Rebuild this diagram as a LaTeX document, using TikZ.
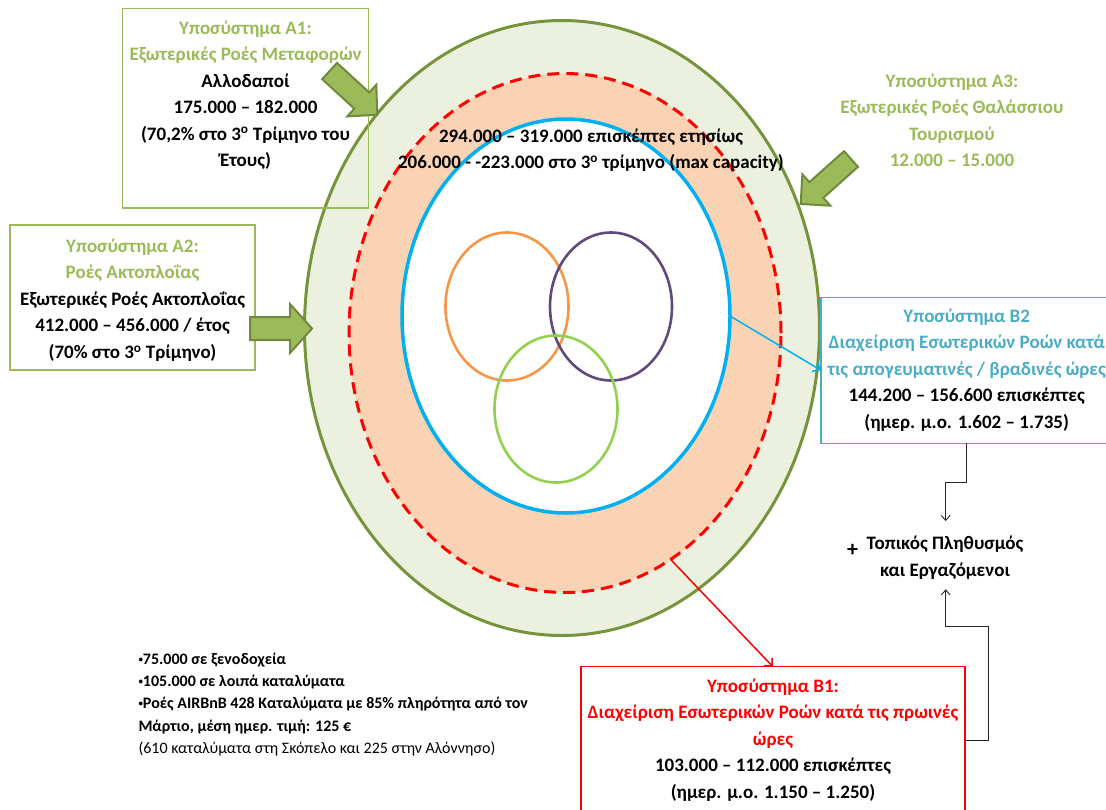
\documentclass[tikz,border=0pt]{standalone}
\usepackage{fontspec}
\setmainfont{Carlito}
\usetikzlibrary{arrows.meta,shapes.geometric}
\definecolor{olivestroke}{HTML}{77933C}
\definecolor{palegreen}{HTML}{EBF1DE}
\definecolor{peach}{HTML}{FAD3B4}
\definecolor{accgreen}{HTML}{9BBB59}
\definecolor{arrstroke}{HTML}{71893F}
\definecolor{skyblue}{HTML}{00B0F0}
\definecolor{aqua}{HTML}{4BACC6}
\definecolor{vorange}{HTML}{F79646}
\definecolor{vpurple}{HTML}{604A7B}
\definecolor{vgreen}{HTML}{92D050}
\newcommand\BigArr[7]{%
  \draw[bigarrow, shift={(#1,#2)}, rotate=#3]
    (0,-#5) -- ({#4-#7},-#5) -- ({#4-#7},-#6) -- (#4,0) -- ({#4-#7},#6) -- ({#4-#7},#5) -- (0,#5) -- cycle;}
\newcommand\SmallBul{\raisebox{2.2pt}{\fontsize{9}{9}\selectfont•}}
\begin{document}
\begin{tikzpicture}[x=1pt,y=-1pt,
  ring/.style={ellipse, inner sep=0pt, outer sep=0pt},
  venn/.style={ellipse, inner sep=0pt, line width=2.6pt},
  frame/.style={rectangle, inner sep=0pt, outer sep=0pt, line width=1.2pt},
  txt/.style={align=center, inner sep=0pt, anchor=north, font=\bfseries\fontsize{19}{26.5}\selectfont},
  small/.style={align=left, inner sep=0pt, anchor=north west, font=\bfseries\fontsize{16}{22.3}\selectfont},
  bigarrow/.style={fill=accgreen, draw=arrstroke, line width=2pt, line join=miter},
  conn/.style={draw=black!85, line width=0.9pt, -{Straight Barb[length=5pt,width=9pt]}},
  bluearr/.style={draw=skyblue, line width=1.5pt, -{Straight Barb[length=6pt,width=11pt]}},
  redarr/.style={draw=red, line width=1.5pt, -{Straight Barb[length=6pt,width=11pt]}}]
\fill[white] (0,0) rectangle (1106,809);
\useasboundingbox (0,0) rectangle (1106,809);

% rings
\node[ring, draw=olivestroke, fill=palegreen, line width=3pt, minimum width=515pt, minimum height=615pt] (outer) at (562,328) {};
\node[ring, draw=red, fill=peach, line width=3pt, dash pattern=on 12pt off 7pt, minimum width=432pt, minimum height=519pt] (redring) at (565,333) {};
\node[ring, draw=skyblue, fill=white, line width=3.5pt, minimum width=328pt, minimum height=394pt] (blue) at (566,316) {};

% venn
\node[venn, draw=vorange, minimum width=123pt, minimum height=148pt] (vo) at (507,306.5) {};
\node[venn, draw=vpurple, minimum width=122pt, minimum height=148pt] (vp) at (611,306.5) {};
\node[venn, draw=vgreen, minimum width=123pt, minimum height=147pt] (vg) at (556,409) {};

% central text
\node[txt] (ctext) at (591,123.5) {\strut 294.000 – 319.000 επισκέπτες ετησίως\\206.000 - -223.000 στο 3\textsuperscript{o} τρίμηνο (max capacity)};

% A1
\node[frame, draw=accgreen, minimum width=245.6pt, minimum height=199.6pt] (A1box) at (245.5,108.1) {};
\node[txt] (A1t) at (245.5,15.4) {\strut\textcolor{accgreen}{Υποσύστημα Α1:}\\\textcolor{accgreen}{Εξωτερικές Ροές Μεταφορών}\\Αλλοδαποί\\175.000 – 182.000\\(70,2\% στο 3\textsuperscript{o} Τρίμηνο του\\Έτους)};

% A2
\node[frame, draw=accgreen, minimum width=245pt, minimum height=145pt] (A2box) at (132.5,297.5) {};
\node[txt] (A2t) at (132.5,233.6) {\strut\textcolor{accgreen}{Υποσύστημα Α2:}\\\textcolor{accgreen}{Ροές Ακτοπλοΐας}\\Εξωτερικές Ροές Ακτοπλοΐας\\412.000 – 456.000 / έτος\\(70\% στο 3\textsuperscript{o} Τρίμηνο)};

% A3
\node[txt, text=accgreen] (A3t) at (952,68.6) {\strut Υποσύστημα Α3:\\Εξωτερικές Ροές Θαλάσσιου\\Τουρισμού\\12.000 – 15.000};

% B2
\node[frame, draw=aqua, minimum width=291.4pt, minimum height=146pt] (B2box) at (966.7,370.3) {};
\node[txt] (B2t) at (966.7,303.6) {\strut\textcolor{aqua}{Υποσύστημα Β2}\\\textcolor{aqua}{Διαχείριση Εσωτερικών Ροών κατά}\\\textcolor{aqua}{τις απογευματινές / βραδινές ώρες}\\144.200 – 156.600 επισκέπτες\\(ημερ. μ.ο. 1.602 – 1.735)};

% B1
\node[frame, draw=red, minimum width=384pt, minimum height=146.3pt] (B1box) at (773,740) {};
\node[txt] (B1t) at (773,673.6) {\strut\textcolor{red}{Υποσύστημα Β1:}\\\textcolor{red}{Διαχείριση Εσωτερικών Ροών κατά τις πρωινές}\\\textcolor{red}{ώρες}\\103.000 – 112.000 επισκέπτες\\(ημερ. μ.ο. 1.150 – 1.250)};

% local population
\node[txt] (LPt) at (945,531) {\strut Τοπικός Πληθυσμός\\και Εργαζόμενοι};
\node[inner sep=0pt, font=\bfseries\fontsize{22}{26}\selectfont] (plus) at (852.7,550) {+};
\coordinate (lpTop) at (945.7,521);
\coordinate (lpBot) at (945.7,589.3);

% bullets
\node[small] (bul) at (138.3,648.4) {\strut\SmallBul 75.000 σε ξενοδοχεία\\\SmallBul 105.000 σε λοιπά καταλύματα\\\SmallBul Ροές AIRBnB 428 Καταλύματα  με 85\% πληρότητα  από τον\\Μάρτιο, μέση ημερ. τιμή: 125 €\\\mdseries(610 καταλύματα στη Σκόπελο  και 225 στην Αλόννησο)};

% big arrows
\BigArr{329.6}{71}{-42.6}{64.7}{11}{21.5}{21}
\BigArr{250}{328.5}{0}{62}{11.5}{24.5}{22}
\BigArr{851}{159}{221.8}{67.5}{10.5}{21}{21}

% connectors
\draw[bluearr] (blue.east) -- (B2box.west);
\draw[redarr] (redring.-65.8) -- (B1box.north);
\draw[conn] (B2box.south) -- ++(0,39.5) -| (lpTop);
\draw[conn] (B1box.east) -| ++(23.3,-113.3) -| (lpBot);
\end{tikzpicture}
\end{document}
